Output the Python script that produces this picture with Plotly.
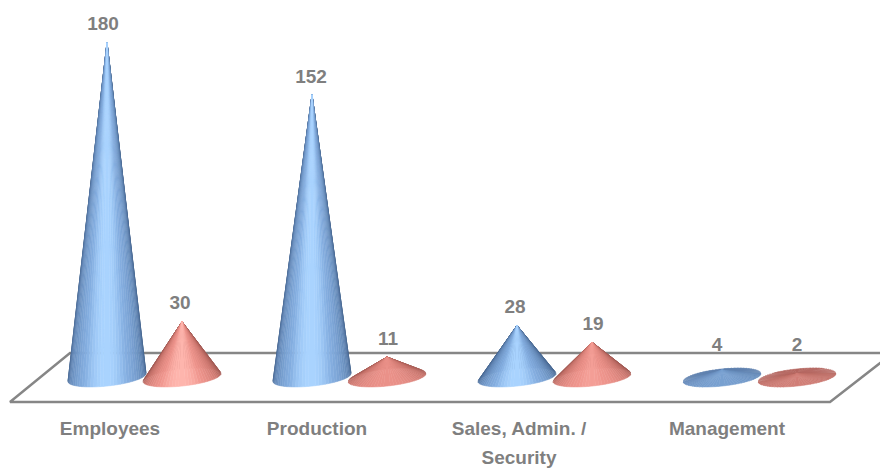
import math
import plotly.graph_objects as go

categories = ["Employees", "Production", "Sales, Admin. /<br>Security", "Management"]
series_a = [180, 152, 28, 4]
series_b = [30, 11, 19, 2]

W, H = 880, 469
ORIGIN_X, STEP_X, BASE_Y, PX_PER_UNIT = 107.0, 205.0, 377.5, 1.86
SERIES_OFFSET = 75.0 / STEP_X
RX, RY, SKEW = 39.0, 8.6, 4.0
N_WEDGE = 72

BLUE = [(0.0, (72, 104, 146)), (0.35, (100, 136, 182)), (0.85, (134, 176, 226)), (1.0, (170, 212, 255))]
RED = [(0.0, (160, 88, 82)), (0.35, (200, 116, 108)), (0.85, (240, 150, 142)), (1.0, (255, 182, 174))]
TEXT = "#7f7f7f"
FLOOR = "#868686"
FONT_SIZE = 19


def dx(px):
    return px / STEP_X


def dy(px):
    return px / PX_PER_UNIT


def palette(stops, i):
    i = max(0.0, min(1.0, i))
    for (a, ca), (b, cb) in zip(stops, stops[1:]):
        if i <= b:
            f = (i - a) / (b - a)
            return [ca[k] + (cb[k] - ca[k]) * f for k in range(3)]
    return list(stops[-1][1])


fig = go.Figure()

x_l, x_r = -ORIGIN_X / STEP_X, (W - ORIGIN_X) / STEP_X
y_b, y_t = -(H - BASE_Y) / PX_PER_UNIT, BASE_Y / PX_PER_UNIT


def px_x(p):
    return (p - ORIGIN_X) / STEP_X


def px_y(p):
    return (BASE_Y - p) / PX_PER_UNIT


floor_x = [px_x(p) for p in (893, 70, 10, 830, 893)]
floor_y = [px_y(p) for p in (353, 353, 402, 402, 353)]
fig.add_trace(go.Scatter(x=floor_x, y=floor_y, mode="lines", line=dict(color=FLOOR, width=2.4),
                         hoverinfo="skip", showlegend=False))


def cone(cx, value, stops):
    slope = min(1.0, value / 28.0)
    gain = min(1.0, 0.87 + 0.13 * value / 4.0)
    contrast = max(0.3, slope ** 0.6)
    wedges = []
    for k in range(N_WEDGE):
        t0 = 2 * math.pi * k / N_WEDGE
        t1 = 2 * math.pi * (k + 1) / N_WEDGE
        tm = (t0 + t1) / 2
        wedges.append((math.sin(tm), t0, t1, tm))
    wedges.sort(key=lambda w: w[0])
    for depth, t0, t1, tm in wedges:
        if value > 40 and depth < -0.3:
            continue
        light = math.cos(tm - math.pi / 2 - 0.04)
        light = 0.5 + (max(light, -0.2) - 0.5) * contrast
        rgb = palette(stops, light)
        col = "rgb(%d,%d,%d)" % tuple(int(c * gain) for c in rgb)
        xs = [cx, cx + dx(RX * math.cos(t0)), cx + dx(RX * math.cos(t1)), cx]
        ys = [value,
              -dy(RY * math.sin(t0) - SKEW * math.cos(t0)),
              -dy(RY * math.sin(t1) - SKEW * math.cos(t1)),
              value]
        fig.add_trace(go.Scatter(x=xs, y=ys, mode="lines", fill="toself", fillcolor=col,
                                 line=dict(color=col, width=0.5), hoverinfo="skip", showlegend=False))


for i, (a, b) in enumerate(zip(series_a, series_b)):
    cone(i, a, BLUE)
    cone(i + SERIES_OFFSET, b, RED)

LABEL_NUDGE_A = [-4, -1, -2, -5]
LABEL_NUDGE_B = [-2, 1, 1, 0]
lx, ly, lt = [], [], []
for i, (a, b) in enumerate(zip(series_a, series_b)):
    for v, off, n in ((a, 0.0, LABEL_NUDGE_A[i]), (b, SERIES_OFFSET, LABEL_NUDGE_B[i])):
        lx.append(i + off + dx(n))
        ly.append(max(v, dy(14.5)) + dy(17))
        lt.append(str(v))
fig.add_trace(go.Scatter(x=lx, y=ly, text=lt, mode="text", textposition="middle center",
                         textfont=dict(family="Liberation Sans", size=FONT_SIZE, color=TEXT, weight="bold"),
                         hoverinfo="skip", showlegend=False))

CAT_NUDGE = [3, 5, 2, 5]
CAT_Y, CAT_LEADING = 430, 29
cx_, cy_, ct_ = [], [], []
for i, name in enumerate(categories):
    for j, line in enumerate(name.split("<br>")):
        cx_.append(i + dx(CAT_NUDGE[i]))
        cy_.append(px_y(CAT_Y + j * CAT_LEADING))
        ct_.append(line)
fig.add_trace(go.Scatter(x=cx_, y=cy_, text=ct_, mode="text", textposition="middle center",
                         textfont=dict(family="Liberation Sans", size=FONT_SIZE, color=TEXT, weight="bold"),
                         hoverinfo="skip", showlegend=False))

fig.update_layout(
    width=W, height=H, margin=dict(l=0, r=0, t=0, b=0, pad=0),
    paper_bgcolor="white", plot_bgcolor="white", showlegend=False,
    xaxis=dict(range=[x_l, x_r], visible=False, fixedrange=True),
    yaxis=dict(range=[y_b, y_t], visible=False, fixedrange=True),
)
fig.write_html("out.html", config=dict(displayModeBar=False),
               post_script="document.body.style.margin='0';document.body.style.overflow='hidden';")
